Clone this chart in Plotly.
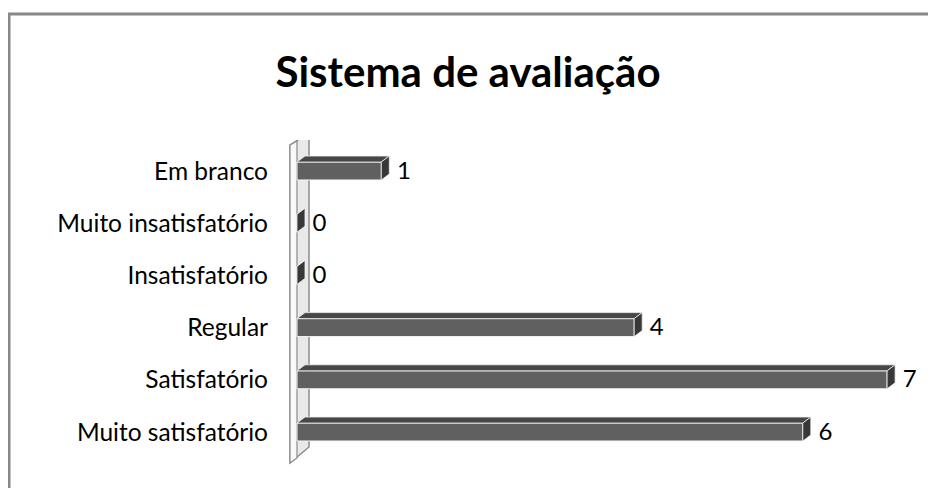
import plotly.graph_objects as go

categories = ["Muito satisfatório", "Satisfatório", "Regular", "Insatisfatório",
              "Muito insatisfatório", "Em branco"]
values = [6, 7, 4, 0, 0, 1]
title_text = "Sistema de avaliação"

OFF = 8                      # page body margin offset
W, H = 936 - OFF, 488 - OFF  # figure size
ML = 288 - OFF
MT = 140 - OFF
MR = 10
MB = 488 - 465
px_per_unit = 84.3
px_per_cat = 52.2
x0_px = 297 - OFF
c0_px = 432 - OFF
pw = W - ML - MR
ph = H - MT - MB
xr = [(ML - x0_px) / px_per_unit, (W - MR - x0_px) / px_per_unit]
yr = [(c0_px - (H - MB)) / px_per_cat, (c0_px - MT) / px_per_cat]

def px2x(p):
    return (p - OFF - x0_px) / px_per_unit

def px2y(p):
    return (c0_px - (p - OFF)) / px_per_cat

dx = 8 / px_per_unit
dy = 6 / px_per_cat
hh = 0.172
ys = list(range(len(categories)))

front = "#606060"
top_c = "#474747"
side_c = "#383838"

fig = go.Figure()

fig.add_trace(go.Bar(
    y=ys, x=values, orientation="h", width=2 * hh,
    marker=dict(color=front, line=dict(color="#f4f4f4", width=1)),
    hoverinfo="skip", showlegend=False,
))

for yc, v in zip(ys, values):
    fig.add_trace(go.Scatter(
        x=[0, v, v + dx, dx, 0], y=[yc + hh, yc + hh, yc + hh + dy, yc + hh + dy, yc + hh],
        fill="toself", fillcolor=top_c, mode="lines",
        line=dict(color="#f0f0f0", width=0.8), hoverinfo="skip", showlegend=False))
    fig.add_trace(go.Scatter(
        x=[v, v + dx, v + dx, v, v], y=[yc - hh, yc - hh + dy, yc + hh + dy, yc + hh, yc - hh],
        fill="toself", fillcolor=side_c, mode="lines",
        line=dict(color="#f0f0f0", width=0.8), hoverinfo="skip", showlegend=False))

fig.add_trace(go.Scatter(
    x=[v + dx + 0.09 for v in values], y=[yc - 0.03 for yc in ys],
    mode="text", text=[str(v) for v in values], textposition="middle right",
    textfont=dict(family="Lato", size=24, color="#000000"),
    hoverinfo="skip", showlegend=False, cliponaxis=False))

wall_path = "M {} {} L {} {} L {} {} L {} {} Z".format(
    px2x(290), px2y(463), px2x(290), px2y(145), px2x(309), px2y(133), px2x(309), px2y(447))
strip_path = "M {} {} L {} {} L {} {} L {} {} Z".format(
    px2x(290), px2y(463), px2x(290), px2y(145), px2x(297), px2y(141), px2x(297), px2y(458))
shapes = [
    dict(type="path", path=wall_path, xref="x", yref="y", layer="below",
         fillcolor="#e9e9e9", line=dict(color="#8c8c8c", width=1.5)),
    dict(type="path", path=strip_path, xref="x", yref="y", layer="below",
         fillcolor="#f8f8f8", line=dict(color="#8c8c8c", width=1.2)),
    dict(type="rect", xref="paper", yref="paper",
         x0=(9 - OFF - ML) / pw, x1=(W + 20 - ML) / pw,
         y0=(H - MB - (H + 20)) / ph, y1=(H - MB - (14 - OFF)) / ph,
         line=dict(color="#888888", width=3), fillcolor="rgba(0,0,0,0)", layer="below"),
]

fig.update_layout(
    width=W, height=H,
    margin=dict(l=ML, r=MR, t=MT, b=MB, autoexpand=False),
    paper_bgcolor="white", plot_bgcolor="white",
    title=dict(text="<b>" + title_text + "</b>",
               x=(468 - OFF) / W, xref="container", xanchor="center",
               y=1 - (72 - OFF) / H, yanchor="middle", yref="container",
               font=dict(family="Lato", size=42, color="#000000")),
    xaxis=dict(range=xr, visible=False, fixedrange=True),
    yaxis=dict(range=yr, tickmode="array", tickvals=ys, ticktext=categories,
               showgrid=False, zeroline=False, showline=False, ticks="",
               ticklabelstandoff=19,
               tickfont=dict(family="Lato", size=24.5, color="#000000"), automargin=False),
    shapes=shapes,
    showlegend=False,
)

fig.write_html("out.html")
